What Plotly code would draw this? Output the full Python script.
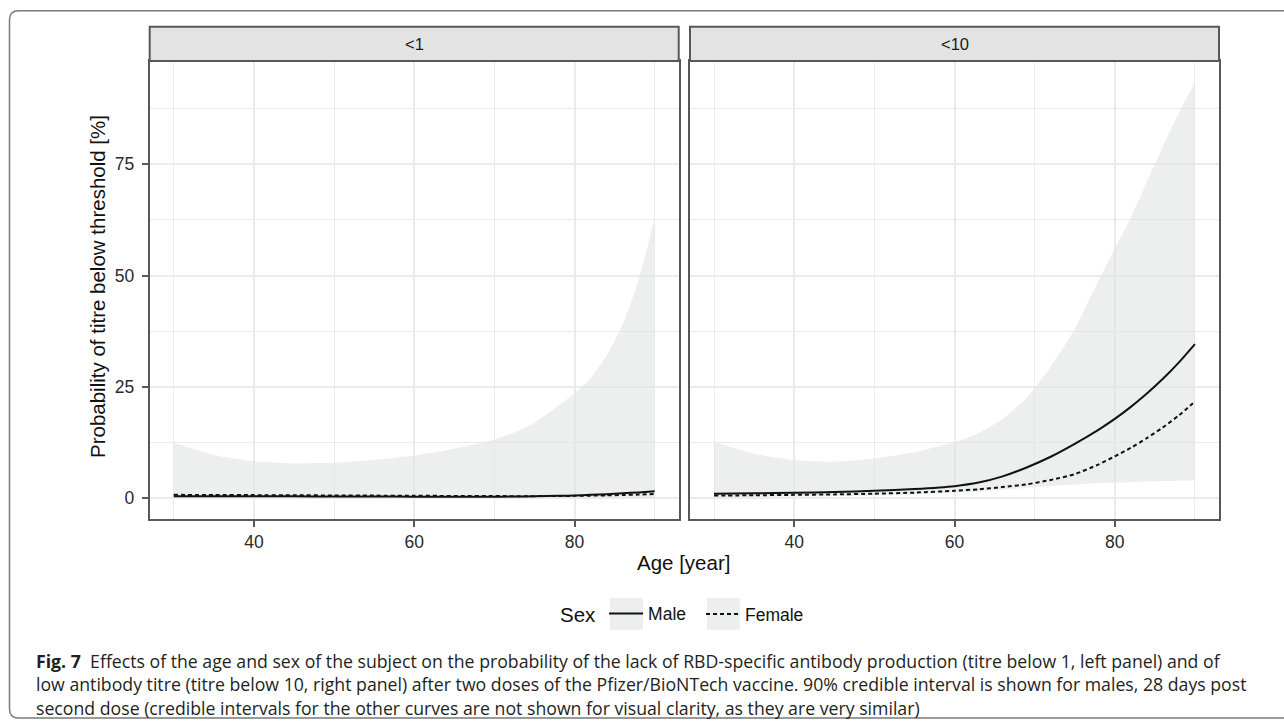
import plotly.graph_objects as go

# Age grid (years) at which the posterior summaries were evaluated
age = [30, 35, 40, 45, 50, 55, 60, 63, 66, 69, 72, 75, 78, 80, 82, 84, 86, 88, 90]

# Panel "<1": probability (%) of titre below 1
lt1_male = [0.45, 0.45, 0.43, 0.41, 0.39, 0.37, 0.34, 0.33, 0.33, 0.34, 0.36, 0.42, 0.52, 0.62, 0.75, 0.9, 1.1, 1.3, 1.55]
lt1_female = [0.75, 0.72, 0.69, 0.65, 0.62, 0.58, 0.54, 0.52, 0.49, 0.47, 0.46, 0.46, 0.49, 0.52, 0.57, 0.63, 0.71, 0.8, 0.92]
lt1_lo = [0.05, 0.05, 0.05, 0.05, 0.05, 0.05, 0.05, 0.05, 0.05, 0.05, 0.05, 0.05, 0.05, 0.06, 0.07, 0.08, 0.09, 0.1, 0.12]
lt1_hi = [12.5, 9.7, 8.3, 7.8, 8.0, 8.6, 9.6, 10.4, 11.5, 12.7, 14.4, 16.9, 20.8, 23.5, 27.0, 32.0, 39.0, 49.0, 63.0]

# Panel "<10": probability (%) of titre below 10
lt10_male = [1.0, 1.1, 1.2, 1.4, 1.65, 2.05, 2.7, 3.5, 4.9, 6.9, 9.3, 12.2, 15.4, 17.8, 20.5, 23.5, 26.8, 30.5, 34.6]
lt10_female = [0.6, 0.65, 0.75, 0.85, 1.0, 1.25, 1.65, 2.0, 2.5, 3.1, 4.1, 5.4, 7.6, 9.4, 11.3, 13.5, 15.9, 18.6, 21.7]
lt10_lo = [0.2, 0.25, 0.3, 0.45, 0.6, 0.85, 1.2, 1.5, 1.9, 2.35, 2.8, 3.1, 3.35, 3.5, 3.6, 3.72, 3.83, 3.92, 4.0]
lt10_hi = [12.7, 10.0, 8.6, 8.2, 8.9, 10.3, 12.6, 14.6, 17.8, 22.5, 29.5, 38.0, 49.0, 56.0, 63.0, 71.0, 79.0, 86.5, 93.5]

panel_titles = ["&lt;1", "&lt;10"]
x_ticks = [40, 60, 80]
x_minor = [30, 50, 70, 90]
y_ticks = [0, 25, 50, 75]
y_minor = [12.5, 37.5, 62.5, 87.5]

W, H = 1284, 724
BAND = "rgba(225,228,226,0.6)"
INK = "#111111"
FRAME = "#585858"
GRID = "#EBEBEB"
SANS = "Liberation Sans, Arial, sans-serif"
SMOOTH = dict(shape="spline", smoothing=0.6)


def px_x(p):
    return p / W


def px_y(p):
    return 1 - p / H


fig = go.Figure()

panels = [
    ("x", "y", lt1_male, lt1_female, lt1_lo, lt1_hi, True),
    ("x2", "y2", lt10_male, lt10_female, lt10_lo, lt10_hi, False),
]
for xa, ya, male, female, lo, hi, show in panels:
    # 90% credible band for males
    fig.add_trace(go.Scatter(
        x=age, y=lo, xaxis=xa, yaxis=ya, mode="lines",
        line=dict(width=0, **SMOOTH), hoverinfo="skip", showlegend=False))
    fig.add_trace(go.Scatter(
        x=age, y=hi, xaxis=xa, yaxis=ya, mode="lines", fill="tonexty",
        fillcolor=BAND, line=dict(width=0, **SMOOTH), hoverinfo="skip", showlegend=False))
    fig.add_trace(go.Scatter(
        x=age, y=male, xaxis=xa, yaxis=ya, mode="lines", name="Male",
        line=dict(color=INK, width=2, **SMOOTH), showlegend=show, legend="legend"))
    fig.add_trace(go.Scatter(
        x=age, y=female, xaxis=xa, yaxis=ya, mode="lines", name="Female",
        line=dict(color=INK, width=2, dash="4px,3px", **SMOOTH),
        showlegend=show, legend="legend2"))

panel_px = [(149.7, 678.7), (690.0, 1219.0)]
top_px, bot_px = 61.0, 519.0
strip_top = 26.7

axis_common = dict(
    showline=True, linecolor=FRAME, linewidth=2, mirror=True,
    showgrid=True, gridcolor=GRID, gridwidth=1.8, zeroline=False,
    ticks="outside", ticklen=6, tickwidth=2, tickcolor=FRAME,
    tickfont=dict(family=SANS, size=17.5, color="#2B2B2B"),
)

for i, (x0, x1) in enumerate(panel_px):
    sx = "" if i == 0 else "2"
    fig.layout["xaxis" + sx] = dict(
        axis_common, domain=[px_x(x0), px_x(x1)], range=[27, 93],
        tickvals=x_ticks, anchor="y" + sx, ticklabelstandoff=0,
        minor=dict(tickvals=x_minor, showgrid=True, gridcolor=GRID, gridwidth=1.1, ticks=""))
    fig.layout["yaxis" + sx] = dict(
        axis_common, domain=[px_y(bot_px), px_y(top_px)], range=[-4.675, 98.175],
        tickvals=y_ticks, anchor="x" + sx, ticklabelstandoff=4,
        minor=dict(tickvals=y_minor, showgrid=True, gridcolor=GRID, gridwidth=1.1, ticks=""))
    if i == 1:
        fig.layout["yaxis2"].update(showticklabels=False, ticks="", matches="y")
    # facet strip
    fig.add_shape(type="rect", xref="paper", yref="paper",
                  x0=px_x(x0), x1=px_x(x1), y0=px_y(top_px), y1=px_y(strip_top),
                  fillcolor="#E3E3E3", line=dict(color=FRAME, width=2))
    fig.add_annotation(xref="paper", yref="paper", x=px_x((x0 + x1) / 2),
                       y=px_y((top_px + strip_top) / 2), text=panel_titles[i],
                       showarrow=False, xanchor="center", yanchor="middle",
                       font=dict(family=SANS, size=16.5, color="#1A1A1A"))

# outer figure frame with rounded left corners
r = 9
fx0, fy0, fx1, fy1 = 9.5, 10.7, 1300, 718
fig.add_shape(type="path", xref="paper", yref="paper", path=
              f"M {px_x(fx1)},{px_y(fy0)} L {px_x(fx0 + r)},{px_y(fy0)} "
              f"Q {px_x(fx0)},{px_y(fy0)} {px_x(fx0)},{px_y(fy0 + r)} "
              f"L {px_x(fx0)},{px_y(fy1 - r)} Q {px_x(fx0)},{px_y(fy1)} {px_x(fx0 + r)},{px_y(fy1)} "
              f"L {px_x(fx1)},{px_y(fy1)}",
              line=dict(color="#7A7A7A", width=1.5))

# legend key backgrounds
for kx in (610, 707):
    fig.add_shape(type="rect", xref="paper", yref="paper", layer="below",
                  x0=px_x(kx), x1=px_x(kx + 33), y0=px_y(630), y1=px_y(598),
                  fillcolor="#EDEFEE", line=dict(width=0))

# axis titles
fig.add_annotation(xref="paper", yref="paper", x=px_x(97), y=px_y(287),
                   text="Probability of titre below threshold [%]", textangle=-90,
                   showarrow=False, xanchor="center", yanchor="middle",
                   font=dict(family=SANS, size=20.5, color="#111111"))
fig.add_annotation(xref="paper", yref="paper", x=px_x(683), y=px_y(562),
                   text="Age [year]", showarrow=False, xanchor="center", yanchor="middle",
                   font=dict(family=SANS, size=20.5, color="#111111"))

# caption
caption_lines = [
    "<b>Fig. 7</b>  Effects of the age and sex of the subject on the probability of the lack of RBD-specific antibody production (titre below 1, left panel) and of",
    "low antibody titre (titre below 10, right panel) after two doses of the Pfizer/BioNTech vaccine. 90% credible interval is shown for males, 28 days post",
    "second dose (credible intervals for the other curves are not shown for visual clarity, as they are very similar)",
]
for k, line in enumerate(caption_lines):
    fig.add_annotation(xref="paper", yref="paper", x=px_x(34), y=px_y(661 + 23.3 * k),
                       text=line, showarrow=False, xanchor="left", yanchor="middle",
                       font=dict(family="Open Sans, sans-serif", size=17.7, color="#231F20"))

legend_common = dict(
    orientation="h", xanchor="left", y=px_y(614), yanchor="middle",
    font=dict(family=SANS, size=17.5, color="#111111"),
    bgcolor="rgba(0,0,0,0)", itemwidth=34,
)
fig.update_layout(
    width=W, height=H, margin=dict(l=0, r=0, t=0, b=0),
    paper_bgcolor="white", plot_bgcolor="white",
    legend=dict(legend_common, x=px_x(558),
                title=dict(text="Sex", side="left",
                           font=dict(family=SANS, size=20.5, color="#111111"))),
    legend2=dict(legend_common, x=px_x(701)),
    hovermode=False,
)

fig.write_html("out.html")
